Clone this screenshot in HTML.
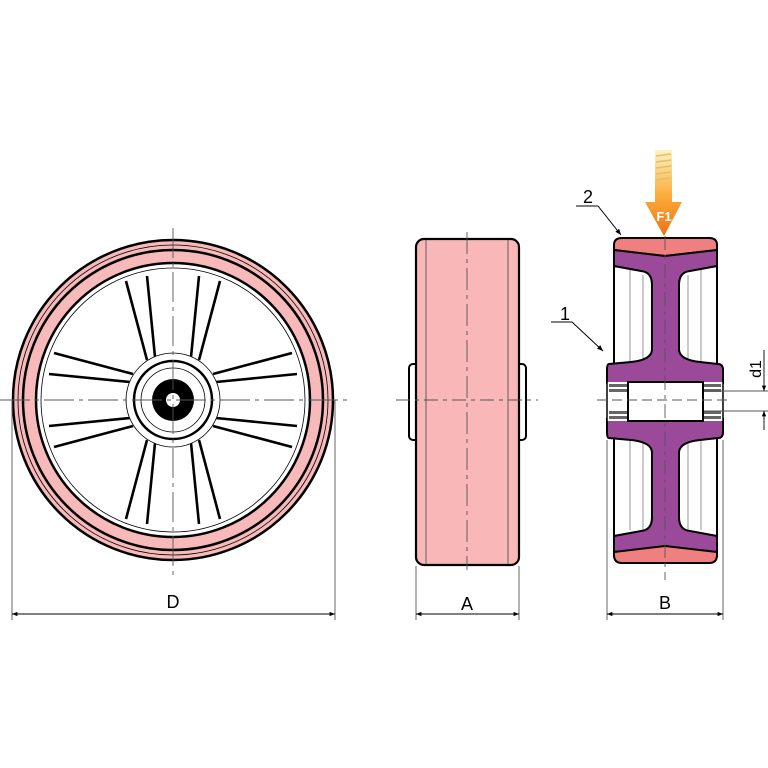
<!DOCTYPE html>
<html><head><meta charset="utf-8"><style>body{margin:0;background:#fff}svg{display:block}</style></head>
<body>
<svg width="768" height="768" viewBox="0 0 768 768" xmlns="http://www.w3.org/2000/svg" font-family="Liberation Sans, sans-serif">
<defs>
<marker id="ar" viewBox="0 0 10 10" refX="10" refY="5" markerWidth="8" markerHeight="6" orient="auto-start-reverse"><path d="M0,1 L10,5 L0,9z" fill="#000"/></marker>
<linearGradient id="og" x1="0" y1="0" x2="0" y2="1"><stop offset="0" stop-color="#fff3c0"/><stop offset="0.5" stop-color="#fbb040"/><stop offset="1" stop-color="#f07010"/></linearGradient>
<g id="sp" stroke="#000" stroke-width="2.6"><line x1="-47" y1="-119" x2="-26" y2="-40"/><line x1="-26" y1="-124" x2="-18" y2="-43"/></g>
<path id="pt" d="M609,364 Q607,364 607,370 L607,383 L723,383 L723,370 Q723,364 718,364 L700,362 Q680,360 679,350 L679,285 Q679,272 690,271 L717,266 L717,250 L665,256 L614,250 L614,266 L641,271 Q652,272 652,285 L652,350 Q651,360 631,362 Z" fill="#9b4a99" stroke="#000" stroke-width="2"/>
</defs>

<!-- front wheel -->
<g transform="translate(173,400)">
<circle r="160" fill="#f7b9b9" stroke="#000" stroke-width="2.5"/>
<circle r="155" fill="none" stroke="#000" stroke-width="0.8"/>
<circle r="150" fill="none" stroke="#000" stroke-width="2.5"/>
<circle r="137" fill="#fff" stroke="#000" stroke-width="2.5"/>
<circle r="132" fill="none" stroke="#000" stroke-width="0.8"/>
<use href="#sp"/><use href="#sp" transform="scale(-1,1)"/>
<use href="#sp" transform="rotate(90)"/><use href="#sp" transform="rotate(90) scale(-1,1)"/>
<use href="#sp" transform="rotate(180)"/><use href="#sp" transform="rotate(180) scale(-1,1)"/>
<use href="#sp" transform="rotate(270)"/><use href="#sp" transform="rotate(270) scale(-1,1)"/>
<circle r="47" fill="#fff" stroke="#000" stroke-width="0.8"/>
<circle r="39" fill="none" stroke="#000" stroke-width="2.5"/>
<circle r="32" fill="none" stroke="#000" stroke-width="0.8"/>
<circle r="21" fill="#000"/>
<circle r="7" fill="#fff"/>
</g>
<g stroke="#555" stroke-width="0.9" fill="none">
<line x1="173" y1="228" x2="173" y2="575" stroke-dasharray="30,5,4,5"/>
<line x1="0" y1="400" x2="348" y2="400" stroke-dasharray="30,5,4,5"/>
<line x1="12" y1="400" x2="12" y2="620"/><line x1="335" y1="400" x2="335" y2="620"/>
<line x1="12" y1="614" x2="335" y2="614" stroke="#000" marker-start="url(#ar)" marker-end="url(#ar)"/>
</g>
<text x="173" y="608" font-size="18" text-anchor="middle">D</text>

<!-- side view -->
<rect x="409" y="364" width="14" height="76" rx="4" fill="#fff" stroke="#000" stroke-width="2"/>
<rect x="512" y="364" width="14" height="76" rx="4" fill="#fff" stroke="#000" stroke-width="2"/>
<rect x="416" y="239" width="103" height="326" rx="8" fill="#f9b7b7" stroke="#000" stroke-width="2.2"/>
<g stroke="#555" stroke-width="0.9" fill="none">
<line x1="426" y1="240" x2="426" y2="564"/><line x1="508" y1="240" x2="508" y2="564"/>
<line x1="467" y1="232" x2="467" y2="570" stroke-dasharray="22,5,4,5"/>
<line x1="396" y1="400" x2="538" y2="400" stroke-dasharray="14,5,4,5"/>
<line x1="416" y1="566" x2="416" y2="620"/><line x1="519" y1="566" x2="519" y2="620"/>
<line x1="416" y1="614" x2="519" y2="614" stroke="#000" marker-start="url(#ar)" marker-end="url(#ar)"/>
</g>
<text x="467" y="610" font-size="18" text-anchor="middle">A</text>

<!-- section view -->
<rect x="614" y="246" width="103" height="310" fill="#fff" stroke="#000" stroke-width="2"/>
<g stroke="#888" stroke-width="0.9"><line x1="630" y1="270" x2="630" y2="530"/><line x1="643" y1="275" x2="643" y2="530"/><line x1="688" y1="275" x2="688" y2="530"/><line x1="701" y1="270" x2="701" y2="530"/></g>
<path d="M614,250 L614,245 Q614,238 622,238 L709,238 Q717,238 717,245 L717,250 L665,256 Z" fill="#f08080" stroke="#000" stroke-width="2"/>
<path d="M614,550 L614,555 Q614,563 622,563 L709,563 Q717,563 717,555 L717,550 L665,544 Z" fill="#f08080" stroke="#000" stroke-width="2"/>
<use href="#pt"/>
<use href="#pt" transform="translate(0,802) scale(1,-1)"/>
<rect x="607" y="382" width="116" height="39" fill="#fff"/>
<g fill="#666"><rect x="609" y="384" width="18" height="3"/><rect x="609" y="389" width="18" height="3"/><rect x="609" y="411" width="18" height="3"/><rect x="609" y="416" width="18" height="3"/>
<rect x="703" y="384" width="18" height="3"/><rect x="703" y="389" width="18" height="3"/><rect x="703" y="411" width="18" height="3"/><rect x="703" y="416" width="18" height="3"/></g>
<rect x="628" y="382" width="75" height="39" fill="#fff" stroke="#000" stroke-width="2"/>
<g stroke="#000" stroke-width="1.5"><line x1="607" y1="382" x2="607" y2="421"/><line x1="723" y1="382" x2="723" y2="421"/></g>
<g stroke="#555" stroke-width="0.9" fill="none">
<line x1="665" y1="236" x2="665" y2="580" stroke-dasharray="14,5,4,5"/>
<line x1="597" y1="400" x2="732" y2="400" stroke-dasharray="10,5"/>
<line x1="607" y1="440" x2="607" y2="620"/><line x1="723" y1="440" x2="723" y2="620"/>
<line x1="607" y1="614" x2="723" y2="614" stroke="#000" marker-start="url(#ar)" marker-end="url(#ar)"/>
<line x1="704" y1="391" x2="768" y2="391"/><line x1="704" y1="411" x2="768" y2="411"/>
<line x1="764" y1="350" x2="764" y2="391" stroke="#000" marker-end="url(#ar)"/>
<line x1="764" y1="430" x2="764" y2="411" stroke="#000" marker-end="url(#ar)"/>
</g>
<text x="665" y="609" font-size="18" text-anchor="middle">B</text>
<text transform="translate(761,369) rotate(-90)" font-size="16" text-anchor="middle">d1</text>

<!-- labels -->
<text x="588" y="203" font-size="18" text-anchor="middle">2</text>
<polyline points="576,206 598,206 621,235" fill="none" stroke="#000" stroke-width="1" marker-end="url(#ar)"/>
<text x="565" y="320" font-size="18" text-anchor="middle">1</text>
<polyline points="551,322 572,322 603,351" fill="none" stroke="#000" stroke-width="1" marker-end="url(#ar)"/>

<!-- F1 arrow -->
<path d="M655,150 L672,150 L672,202 L682,202 L664,236 L645,202 L655,202 Z" fill="url(#og)"/>
<g stroke="#e0c070" stroke-width="1.5"><line x1="656" y1="156" x2="671" y2="154"/><line x1="656" y1="162" x2="671" y2="160"/><line x1="656" y1="168" x2="671" y2="166"/><line x1="656" y1="174" x2="671" y2="172"/><line x1="656" y1="180" x2="671" y2="178"/></g>
<text x="664" y="221" font-size="13" font-weight="bold" fill="#fff" text-anchor="middle">F1</text>
</svg>
</body></html>
